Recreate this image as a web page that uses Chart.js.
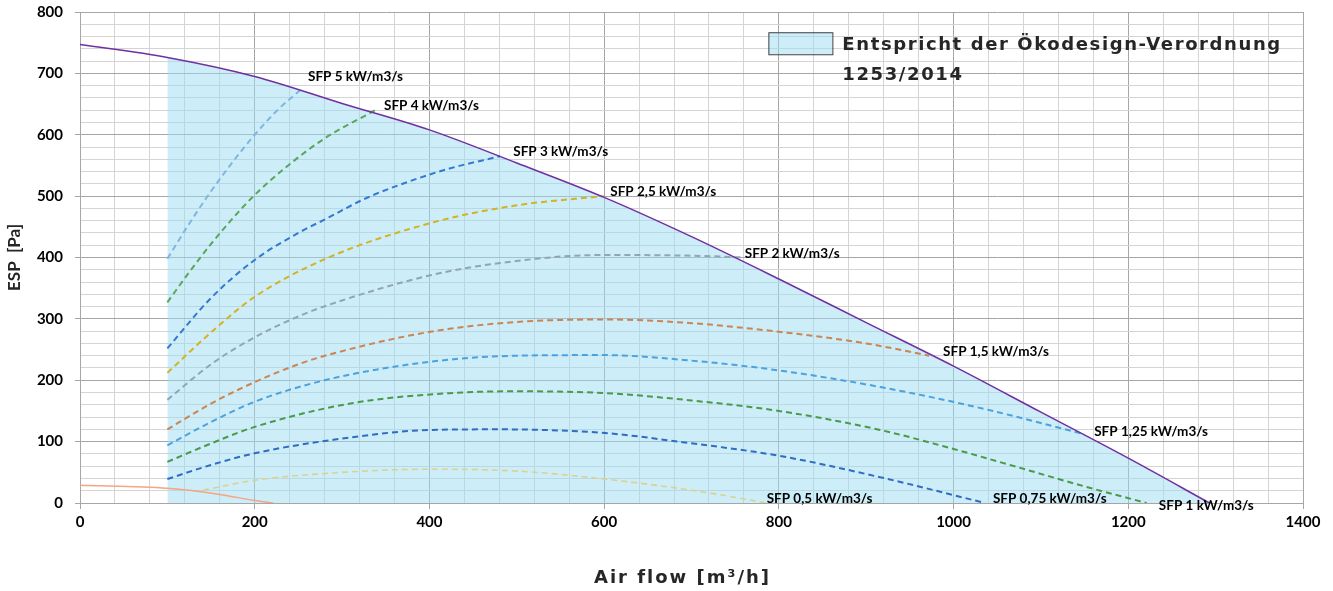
<!DOCTYPE html>
<html lang="de">
<head>
  <meta charset="UTF-8">
  <title>ESP / Air flow</title>
  <style>
    body { margin: 0; padding: 0; background: #fff; }
    #wrap { width: 1333px; height: 591px; }
  </style>
</head>
<body>
  <div id="wrap"><canvas id="chart"></canvas></div>

  <script src="https://cdn.jsdelivr.net/npm/chart.js"></script>
  <script>
    // Ventilatorkennlinie (lila) und Fläche darunter ab 100 m3/h
    var fanX = [0, 100, 200, 300, 400, 500, 600, 700, 800, 900, 1000, 1100, 1200, 1293];
    var fanY = [747, 726, 695, 651, 608, 554, 498, 434, 365, 294, 223, 148, 73, 0];

    // untere orange Kennlinie
    var lowX = [0, 100, 160, 200, 221];
    var lowY = [29, 24, 14, 4, 0];

    // SFP-Kurven
    var sfp5X = [100, 125, 150, 175, 200, 226, 254];
    var sfp5Y = [398, 455, 508, 556, 600, 640, 675];
    var sfp4X = [100, 125, 150, 175, 200, 240, 280, 338];
    var sfp4Y = [327, 376, 422, 464, 502, 552, 594, 640];
    var sfp3X = [100, 150, 200, 250, 283, 328, 381, 423, 481];
    var sfp3Y = [252, 334, 396, 440, 464, 497, 526, 545, 565];
    var sfp25X = [100, 150, 200, 283, 401, 500, 600];
    var sfp25Y = [212, 278, 336, 399, 456, 485, 500];
    var sfp2X = [100, 150, 200, 250, 283, 401, 481, 595, 700, 760];
    var sfp2Y = [168, 226, 270, 304, 322, 371, 391, 404, 403, 400];
    var sfp15X = [100, 150, 200, 250, 283, 401, 500, 600, 700, 800, 900, 972];
    var sfp15Y = [120, 162, 197, 226, 241, 279, 295, 299, 293, 279, 260, 240];
    var sfp125X = [100, 150, 200, 280, 400, 500, 600, 700, 800, 916, 1030, 1150];
    var sfp125Y = [94, 132, 165, 200, 230, 240, 241, 232, 216, 189, 155, 112];
    var sfp1X = [100, 150, 200, 313, 423, 500, 601, 700, 800, 916, 1000, 1084, 1150, 1221];
    var sfp1Y = [67, 97, 124, 163, 179, 182, 179, 167, 150, 119, 88, 54, 27, 0];
    var sfp075X = [100, 150, 200, 290, 401, 480, 601, 690, 800, 919, 1036];
    var sfp075Y = [39, 62, 81, 103, 119, 120, 114, 99, 77, 41, 0];
    var sfp05X = [141, 200, 290, 401, 500, 601, 713, 786];
    var sfp05Y = [21, 37, 49, 55, 52, 39, 18, 0];

    // Beschriftungen der Kurven (Text, x, y in Achsenwerten)
    var sfpLabels = ['SFP 5 kW/m3/s', 'SFP 4 kW/m3/s', 'SFP 3 kW/m3/s', 'SFP 2,5 kW/m3/s', 'SFP 2 kW/m3/s',
                     'SFP 1,5 kW/m3/s', 'SFP 1,25 kW/m3/s', 'SFP 0,5 kW/m3/s', 'SFP 0,75 kW/m3/s', 'SFP 1 kW/m3/s'];
    var labelX = [261, 348, 496, 607, 761, 988, 1161, 786, 1045, 1235];
    var labelY = [694, 648, 573, 508, 407, 246, 117, 7, 7, -5];

    var legendLines = ['Entspricht der Ökodesign-Verordnung', '1253/2014'];
    var xTitle = 'Air flow [m³/h]';

    function pts(xs, ys) {
      return xs.map(function(x, i) { return { x: x, y: ys[i] }; });
    }

    var areaX = fanX.filter(function(x) { return x >= 100; });
    var areaY = fanY.slice(fanX.length - areaX.length);

    var fillColor = 'rgba(155, 219, 241, 0.5)';

    function dashed(xs, ys, color, width) {
      return {
        data: pts(xs, ys),
        borderColor: color,
        borderWidth: width || 2,
        borderDash: [6, 4],
        pointRadius: 0,
        showLine: true,
        cubicInterpolationMode: 'monotone',
        fill: false,
        order: 5
      };
    }

    // Texte auf der Zeichenfläche
    var textPlugin = {
      id: 'texte',
      afterDatasetsDraw: function(chart) {
        var ctx = chart.ctx;
        var sx = chart.scales.x, sy = chart.scales.y;
        var area = chart.chartArea;
        ctx.save();
        ctx.fillStyle = '#000';
        ctx.font = 'bold 13.5px Lato';
        ctx.textBaseline = 'middle';
        ctx.textAlign = 'left';
        sfpLabels.forEach(function(t, i) {
          ctx.fillText(t, sx.getPixelForValue(labelX[i]), sy.getPixelForValue(labelY[i]));
        });

        // Legende
        var bx = sx.getPixelForValue(788), by = sy.getPixelForValue(767);
        ctx.fillStyle = fillColor;
        ctx.fillRect(bx, by, 64, 22);
        ctx.strokeStyle = '#404040';
        ctx.lineWidth = 1;
        ctx.strokeRect(bx + 0.5, by + 0.5, 64, 22);
        ctx.fillStyle = '#262626';
        ctx.font = 'bold 18px "DejaVu Sans"';
        ctx.letterSpacing = '1.6px';
        ctx.fillText(legendLines[0], bx + 74, by + 13);
        ctx.fillText(legendLines[1], bx + 74, by + 43);

        // x-Achsentitel
        ctx.letterSpacing = '2px';
        ctx.textAlign = 'center';
        ctx.fillText(xTitle, (area.left + area.right) / 2 - 9, area.bottom + 75);
        ctx.restore();
      }
    };

    var ctx = document.getElementById('chart').getContext('2d');
    new Chart(ctx, {
      type: 'scatter',
      data: {
        datasets: [
          {
            data: pts(fanX, fanY),
            borderColor: '#7030a0',
            borderWidth: 1.5,
            pointRadius: 0,
            showLine: true,
            cubicInterpolationMode: 'monotone',
            fill: false,
            order: 0
          },
          {
            data: pts(lowX, lowY),
            borderColor: '#f4a582',
            borderWidth: 1.5,
            pointRadius: 0,
            showLine: true,
            cubicInterpolationMode: 'monotone',
            fill: false,
            order: 1
          },
          dashed(sfp5X, sfp5Y, '#80b6e2'),
          dashed(sfp4X, sfp4Y, '#5aa65a'),
          dashed(sfp3X, sfp3Y, '#3578d0'),
          dashed(sfp25X, sfp25Y, '#d3b322'),
          dashed(sfp2X, sfp2Y, '#90a6b2'),
          dashed(sfp15X, sfp15Y, '#cc8552'),
          dashed(sfp125X, sfp125Y, '#4ca2de'),
          dashed(sfp1X, sfp1Y, '#4a9a4a'),
          dashed(sfp075X, sfp075Y, '#2e6dc2'),
          dashed(sfp05X, sfp05Y, '#dcd290', 1.6),
          {
            data: pts(areaX, areaY),
            borderWidth: 0,
            borderColor: 'rgba(0,0,0,0)',
            backgroundColor: fillColor,
            pointRadius: 0,
            showLine: true,
            cubicInterpolationMode: 'monotone',
            fill: 'origin',
            order: 100
          }
        ]
      },
      options: {
        responsive: true,
        maintainAspectRatio: false,
        animation: false,
        layout: { padding: { top: 12, right: 30, left: 0, bottom: 0 } },
        plugins: {
          legend: { display: false },
          tooltip: { enabled: false }
        },
        scales: {
          x: {
            type: 'linear',
            min: 0,
            max: 1400,
            afterFit: function(s) { s.height = 88; },
            ticks: {
              stepSize: 40,
              autoSkip: false,
              maxRotation: 0,
              padding: 4,
              color: '#000',
              font: { family: 'Lato', weight: 'bold', size: 15 },
              callback: function(v) { return v % 200 === 0 ? v : ''; }
            },
            grid: {
              color: function(c) { return c.tick && c.tick.value % 200 === 0 ? '#a6a6a6' : '#d4d4d4'; },
              tickColor: function(c) { return c.tick && c.tick.value % 200 === 0 ? '#a6a6a6' : 'rgba(0,0,0,0)'; },
              tickLength: 6
            },
            border: { color: '#a6a6a6' }
          },
          y: {
            min: 0,
            max: 800,
            afterFit: function(s) {
              s.width = 80;
              s.paddingTop = 0;
              s.paddingBottom = 0;
            },
            ticks: {
              stepSize: 20,
              autoSkip: false,
              padding: 12,
              color: '#000',
              font: { family: 'Lato', weight: 'bold', size: 15 },
              callback: function(v) { return v % 100 === 0 ? v : ''; }
            },
            grid: {
              color: function(c) { return c.tick && c.tick.value % 100 === 0 ? '#a6a6a6' : '#d4d4d4'; },
              tickColor: function(c) { return c.tick && c.tick.value % 100 === 0 ? '#a6a6a6' : 'rgba(0,0,0,0)'; },
              tickLength: 5
            },
            border: { color: '#a6a6a6' },
            title: {
              display: true,
              text: 'ESP  [Pa]',
              color: '#262626',
              font: { family: 'Lato', weight: 'bold', size: 17 },
              padding: { bottom: 0 }
            }
          }
        }
      },
      plugins: [textPlugin]
    });
  </script>
</body>
</html>
